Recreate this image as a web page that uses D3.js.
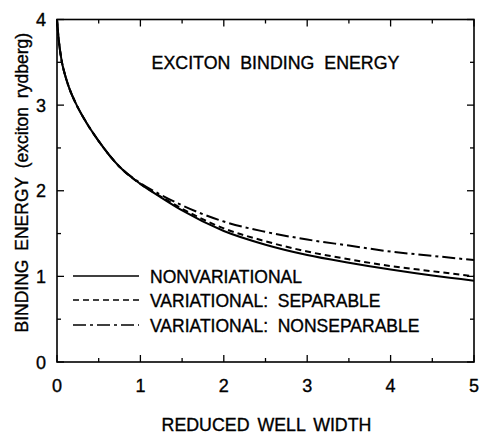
<!DOCTYPE html>
<html>
<head>
<meta charset="utf-8">
<script src="https://cdn.jsdelivr.net/npm/d3@7"></script>
<style>
  html, body { margin: 0; padding: 0; background: #fff; }
  svg { display: block; font-family: "Liberation Sans", Arial, Helvetica, sans-serif; }
  text { fill: #000; stroke: #000; stroke-width: 0.35; }
</style>
</head>
<body>
<svg id="chart" width="480" height="434"></svg>
<script>
// Reduced well width (x) and binding energy in exciton rydbergs (y)
const widths = [0, 0.02, 0.05, 0.1, 0.15, 0.236, 0.35, 0.5, 0.75, 1.0, 1.25, 1.5, 2.0, 2.5, 3.0, 3.5, 4.0, 4.5, 5.0];
const nonvariational = [4.0, 3.77, 3.55, 3.34, 3.19, 3.0, 2.8, 2.58, 2.28, 2.08, 1.92, 1.77, 1.53, 1.37, 1.25, 1.16, 1.08, 1.01, 0.95];
const separable      = [4.0, 3.77, 3.55, 3.34, 3.19, 3.0, 2.8, 2.58, 2.28, 2.08, 1.93, 1.79, 1.56, 1.41, 1.29, 1.20, 1.12, 1.06, 1.00];
const nonseparable   = [4.0, 3.77, 3.55, 3.34, 3.19, 3.0, 2.8, 2.58, 2.28, 2.09, 1.95, 1.83, 1.64, 1.52, 1.43, 1.36, 1.29, 1.24, 1.19];

const seriesNames = ["NONVARIATIONAL", "VARIATIONAL:  SEPARABLE", "VARIATIONAL:  NONSEPARABLE"];
const seriesValues = [nonvariational, separable, nonseparable];
const dashes = [null, "6,4", "13,4,3,4"];

const xTicks = [0, 1, 2, 3, 4, 5];
const yTicks = [0, 1, 2, 3, 4];

const svg = d3.select("#chart");
const plotLeft = 57, plotRight = 474, plotTop = 19.5, plotBottom = 362;

const x = d3.scaleLinear().domain([0, 5]).range([plotLeft, plotRight]);
const y = d3.scaleLinear().domain([0, 4]).range([plotBottom, plotTop]);

// frame
svg.append("rect")
  .attr("x", plotLeft).attr("y", plotTop)
  .attr("width", plotRight - plotLeft).attr("height", plotBottom - plotTop)
  .attr("fill", "none").attr("stroke", "#000").attr("stroke-width", 1.6);

// inward ticks on all four sides
const majorLen = 7, minorLen = 4;
const xMinor = d3.range(0.5, 5, 1);
const yMinor = d3.range(0.5, 4, 1);
const tickG = svg.append("g").attr("stroke", "#000").attr("stroke-width", 1.3);
xTicks.forEach(v => {
  tickG.append("line").attr("x1", x(v)).attr("x2", x(v)).attr("y1", plotBottom).attr("y2", plotBottom - majorLen);
  tickG.append("line").attr("x1", x(v)).attr("x2", x(v)).attr("y1", plotTop).attr("y2", plotTop + majorLen);
});
xMinor.forEach(v => {
  tickG.append("line").attr("x1", x(v)).attr("x2", x(v)).attr("y1", plotBottom).attr("y2", plotBottom - minorLen);
  tickG.append("line").attr("x1", x(v)).attr("x2", x(v)).attr("y1", plotTop).attr("y2", plotTop + minorLen);
});
yTicks.forEach(v => {
  tickG.append("line").attr("x1", plotLeft).attr("x2", plotLeft + majorLen).attr("y1", y(v)).attr("y2", y(v));
  tickG.append("line").attr("x1", plotRight).attr("x2", plotRight - majorLen).attr("y1", y(v)).attr("y2", y(v));
});
yMinor.forEach(v => {
  tickG.append("line").attr("x1", plotLeft).attr("x2", plotLeft + minorLen).attr("y1", y(v)).attr("y2", y(v));
  tickG.append("line").attr("x1", plotRight).attr("x2", plotRight - minorLen).attr("y1", y(v)).attr("y2", y(v));
});

// tick labels
svg.append("g").selectAll("text").data(xTicks).join("text")
  .attr("x", d => x(d)).attr("y", 392)
  .attr("text-anchor", "middle").attr("font-size", 18)
  .text(d => d);
svg.append("g").selectAll("text").data(yTicks).join("text")
  .attr("x", 46).attr("y", d => y(d) + 6.5)
  .attr("text-anchor", "end").attr("font-size", 18)
  .text(d => d);

// axis titles
svg.append("text")
  .attr("x", x(2.5) + 1).attr("y", 431)
  .attr("text-anchor", "middle").attr("font-size", 17.8)
  .attr("word-spacing", 3)
  .text("REDUCED WELL WIDTH");
svg.append("text")
  .attr("transform", `translate(28, ${(plotTop + plotBottom) / 2 - 8}) rotate(-90)`)
  .attr("text-anchor", "middle").attr("font-size", 17.5)
  .attr("word-spacing", 4)
  .text("BINDING ENERGY (exciton rydberg)");

// chart heading inside the frame
svg.append("text")
  .attr("x", 275.5).attr("y", 68.5)
  .attr("text-anchor", "middle").attr("font-size", 17.8)
  .attr("word-spacing", 5)
  .text("EXCITON BINDING ENERGY");

// curves
const line = d3.line()
  .x((d, i) => x(widths[i]))
  .y(d => y(d))
  .curve(d3.curveMonotoneX);

seriesValues.forEach((vals, k) => {
  svg.append("path")
    .datum(vals)
    .attr("d", line)
    .attr("fill", "none")
    .attr("stroke", "#000")
    .attr("stroke-width", 2)
    .attr("stroke-dasharray", dashes[k]);
});

// legend
const legendY = [276, 300, 325];
seriesNames.forEach((name, k) => {
  svg.append("line")
    .attr("x1", 73).attr("x2", 139)
    .attr("y1", legendY[k]).attr("y2", legendY[k])
    .attr("stroke", "#000").attr("stroke-width", 1.6)
    .attr("stroke-dasharray", dashes[k]);
  svg.append("text")
    .attr("x", 150).attr("y", legendY[k] + 6.5)
    .attr("font-size", 17.5)
    .attr("xml:space", "preserve")
    .text(name);
});
</script>
</body>
</html>
